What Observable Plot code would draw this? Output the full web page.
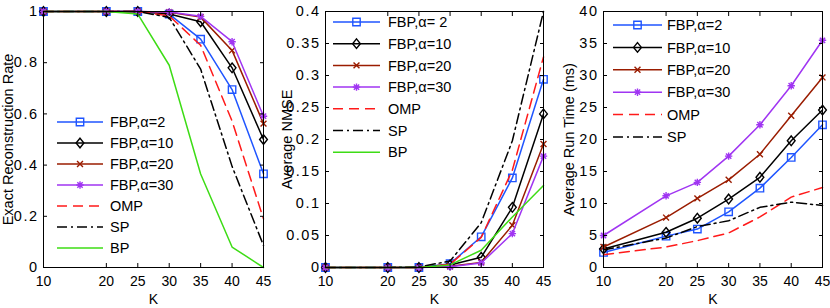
<!DOCTYPE html>
<html><head><meta charset="utf-8">
<script src="https://cdn.jsdelivr.net/npm/d3@7"></script>
<script src="https://cdn.jsdelivr.net/npm/@observablehq/plot@0.6"></script>
<style>
body{margin:0;background:#fff;}
#wrap{position:relative;width:830px;height:308px;overflow:hidden;background:#fff;font-family:"Liberation Sans",Arial,sans-serif;}
.panel{position:absolute;top:0;}
#legend{position:absolute;left:0;top:0;pointer-events:none;}
</style></head><body><div id="wrap"></div>
<script>
// ---------- data ----------
const K = [10, 20, 25, 30, 35, 40, 45];
const seriesNames = ["FBP,α=2", "FBP,α=10", "FBP,α=20", "FBP,α=30", "OMP", "SP", "BP"];
const nmseNames = ["FBP,α= 2", "FBP,α=10", "FBP,α=20", "FBP,α=30", "OMP", "SP", "BP"];
const timeNames = ["FBP,α=2", "FBP,α=10", "FBP,α=20", "FBP,α=30", "OMP", "SP"];
const seriesColors = ["#1f55ff", "#000000", "#9a1c00", "#a035f2", "#ff1a1a", "#000000", "#3ddc15"];
const seriesDash = [null, null, null, null, "10,6", "10,4,2,4", null];
const seriesMarkers = ["square", "diamond", "cross", "asterisk", null, null, null];

const rateTicks = [0, 0.2, 0.4, 0.6, 0.8, 1];
const nmseTicks = [0, 0.05, 0.1, 0.15, 0.2, 0.25, 0.3, 0.35, 0.4];
const timeTicks = [0, 5, 10, 15, 20, 25, 30, 35, 40];

const rateValues = [
  [1, 1, 1, 0.99, 0.892, 0.695, 0.366],
  [1, 1, 1, 0.99, 0.96, 0.78, 0.5],
  [1, 1, 1, 0.997, 0.978, 0.848, 0.562],
  [1, 1, 1, 0.998, 0.981, 0.882, 0.591],
  [1, 1, 1, 0.983, 0.868, 0.572, 0.19],
  [1, 1, 1, 0.977, 0.775, 0.395, 0.086],
  [1, 1, 0.99, 0.79, 0.365, 0.08, 0.0]
];
const nmseValues = [
  [0, 0, 0, 0.006, 0.048, 0.14, 0.294],
  [0, 0, 0, 0.004, 0.016, 0.094, 0.24],
  [0, 0, 0, 0.002, 0.008, 0.066, 0.193],
  [0, 0, 0, 0.001, 0.007, 0.053, 0.174],
  [0, 0, 0, 0.005, 0.047, 0.152, 0.329],
  [0, 0, 0.001, 0.01, 0.07, 0.198, 0.4],
  [0, 0, 0, 0.004, 0.027, 0.079, 0.128]
];
const timeValues = [
  [2.35, 4.9, 6.0, 8.7, 12.4, 17.2, 22.3],
  [2.9, 5.5, 7.7, 10.7, 14.1, 19.8, 24.6],
  [3.2, 7.8, 10.8, 13.7, 17.7, 23.7, 29.7],
  [5.0, 11.2, 13.3, 17.4, 22.3, 28.4, 35.5],
  [2.0, 3.2, 4.2, 5.4, 7.9, 11.0, 12.5],
  [2.75, 4.6, 6.4, 7.3, 9.4, 10.2, 9.7]
];

// ---------- marker symbols (MATLAB style) ----------
const rad = s => Math.sqrt(s / Math.PI);
const symbols = {
  square: {draw(c, s) { const r = rad(s); c.moveTo(-r, -r); c.lineTo(r, -r); c.lineTo(r, r); c.lineTo(-r, r); c.closePath(); }},
  diamond: {draw(c, s) { const r = rad(s), w = 1.05 * r, h = 1.3 * r; c.moveTo(0, -h); c.lineTo(w, 0); c.lineTo(0, h); c.lineTo(-w, 0); c.closePath(); }},
  cross: {draw(c, s) { const r = rad(s) * 0.8; c.moveTo(-r, -r); c.lineTo(r, r); c.moveTo(r, -r); c.lineTo(-r, r); }},
  asterisk: {draw(c, s) { const r = rad(s), d = r * 0.72; c.moveTo(-r, 0); c.lineTo(r, 0); c.moveTo(0, -r); c.lineTo(0, r); c.moveTo(-d, -d); c.lineTo(d, d); c.moveTo(d, -d); c.lineTo(-d, d); }}
};
const markerR = 3.7;

// ---------- panels ----------
const wrap = document.getElementById("wrap");
function makePanel(cfg) {
  const marks = [];
  cfg.names.forEach((name, i) => {
    const data = K.map((k, j) => ({k, v: cfg.values[i][j]}));
    marks.push(Plot.line(data, {x: "k", y: "v", stroke: seriesColors[i], strokeWidth: 1.5,
      strokeDasharray: seriesDash[i] || undefined}));
    if (seriesMarkers[i]) {
      marks.push(Plot.dot(data, {x: "k", y: "v", symbol: symbols[seriesMarkers[i]], r: markerR,
        stroke: seriesColors[i], fill: "none", strokeWidth: 1.4}));
    }
  });
  const plot = Plot.plot({
    width: cfg.width, height: 308,
    marginLeft: cfg.ml, marginRight: cfg.mr, marginTop: 11, marginBottom: 41,
    style: {fontFamily: "'Liberation Sans', Arial, sans-serif", fontSize: "14px", background: "white", color: "black", overflow: "visible"},
    x: {domain: [10, 45]},
    y: {domain: cfg.yDomain},
    marks: [
      ...marks,
      Plot.axisX({anchor: "bottom", ticks: K, tickSize: -4, tickPadding: 13, fontSize: 14,
        label: "K", labelAnchor: "center", labelArrow: "none", labelOffset: 36}),
      Plot.axisX({anchor: "top", ticks: K, tickSize: -4, tickFormat: () => "", label: null}),
      Plot.axisY({anchor: "left", ticks: cfg.yTicks, tickSize: -4, tickPadding: 9, fontSize: 14.5,
        tickFormat: cfg.yFormat, label: cfg.yLabel, labelAnchor: "center", labelArrow: "none", labelOffset: cfg.labelOffset}),
      Plot.axisY({anchor: "right", ticks: cfg.yTicks, tickSize: -4, tickFormat: () => "", label: null}),
      Plot.frame({stroke: "black", strokeWidth: 1})
    ]
  });
  plot.classList.add("panel");
  plot.style.left = cfg.left + "px";
  d3.select(plot).selectAll('g[aria-label="y-axis tick label"] text').style("letter-spacing", "1.5px");
  wrap.appendChild(plot);
}

makePanel({names: seriesNames, values: rateValues, yDomain: [0, 1], yTicks: rateTicks,
  yFormat: d => String(d), yLabel: "Exact Reconstruction Rate", width: 277, ml: 43, mr: 14, left: 0, labelOffset: 41});
makePanel({names: nmseNames, values: nmseValues, yDomain: [0, 0.4], yTicks: nmseTicks,
  yFormat: d => String(d), yLabel: "Average NMSE", width: 276, ml: 48, mr: 10, left: 277, labelOffset: 44});
makePanel({names: timeNames, values: timeValues, yDomain: [0, 40], yTicks: timeTicks,
  yFormat: d => String(d), yLabel: "Average Run Time (ms)", width: 277, ml: 50, mr: 8, left: 553, labelOffset: 40});

// ---------- legends ----------
const legends = [
  {names: seriesNames, x0: 57, x1: 103, tx: 110, y0: 122, dy: 21},
  {names: nmseNames, x0: 333, x1: 380, tx: 388, y0: 22, dy: 21.7},
  {names: timeNames, x0: 613, x1: 662, tx: 667, y0: 25, dy: 22.4}
];
const svg = d3.select(wrap).append("svg").attr("id", "legend").attr("width", 830).attr("height", 308);
legends.forEach(L => {
  L.names.forEach((name, i) => {
    const y = L.y0 + i * L.dy;
    const g = svg.append("g");
    g.append("line").attr("x1", L.x0).attr("x2", L.x1).attr("y1", y).attr("y2", y)
      .attr("stroke", seriesColors[i]).attr("stroke-width", 1.5)
      .attr("stroke-dasharray", seriesDash[i]);
    if (seriesMarkers[i]) {
      g.append("path").attr("transform", `translate(${(L.x0 + L.x1) / 2},${y})`)
        .attr("d", d3.symbol(symbols[seriesMarkers[i]], markerR * markerR * Math.PI)())
        .attr("fill", "none").attr("stroke", seriesColors[i]).attr("stroke-width", 1.4);
    }
    g.append("text").attr("x", L.tx).attr("y", y).attr("dy", "0.36em")
      .attr("font-family", "'Liberation Sans', Arial, sans-serif").attr("font-size", 14.5)
      .attr("fill", "black").text(name);
  });
});
</script></body></html>
